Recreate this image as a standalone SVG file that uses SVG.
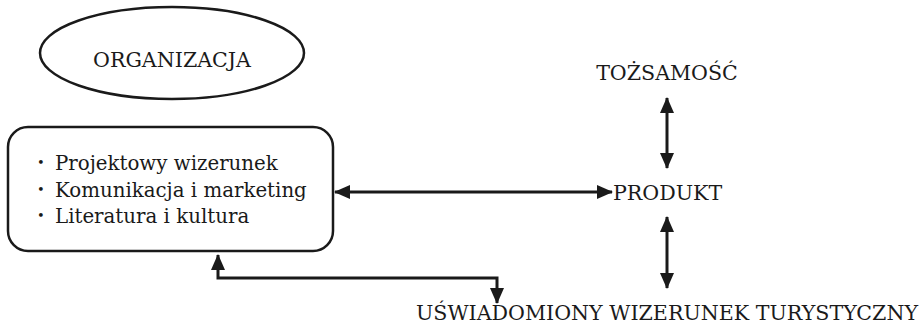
<svg xmlns="http://www.w3.org/2000/svg" width="923" height="330" viewBox="0 0 923 330">
  <style>
    text { font-family: "DejaVu Serif", "Liberation Serif", serif; fill: #1a1a1a; }
    .lbl { font-size: 20.6px; }
    .item { font-size: 19.8px; }
    .dot { font-size: 13px; }
    .shape { fill: #ffffff; stroke: #1a1a1a; stroke-width: 2.5; }
    .conn { fill: none; stroke: #1a1a1a; stroke-width: 3; }
  </style>
  <defs>
    <marker id="head" viewBox="0 0 16 14" refX="15" refY="7" markerWidth="16" markerHeight="14" markerUnits="userSpaceOnUse" orient="auto-start-reverse">
      <path d="M0,0 L16,7 L0,14 Z" fill="#1a1a1a"/>
    </marker>
  </defs>
  <rect width="923" height="330" fill="#ffffff"/>

  <g id="organizacja">
    <ellipse class="shape" cx="172" cy="53" rx="132" ry="46"/>
    <text class="lbl" x="172" y="67" text-anchor="middle">ORGANIZACJA</text>
  </g>

  <g id="narzedzia">
    <rect class="shape" x="8" y="127" width="325" height="124" rx="20" stroke-width="3"/>
    <text class="dot" x="37" y="167">•</text>
    <text class="item" x="55" y="170">Projektowy wizerunek</text>
    <text class="dot" x="37" y="194">•</text>
    <text class="item" x="55" y="197">Komunikacja i marketing</text>
    <text class="dot" x="37" y="220">•</text>
    <text class="item" x="55" y="223">Literatura i kultura</text>
  </g>

  <g id="tozsamosc">
    <text class="lbl" x="667" y="80" text-anchor="middle">TOŻSAMOŚĆ</text>
  </g>

  <g id="produkt">
    <text class="lbl" x="613" y="200">PRODUKT</text>
  </g>

  <g id="wizerunek">
    <text class="lbl" x="667" y="320" text-anchor="middle">UŚWIADOMIONY WIZERUNEK TURYSTYCZNY</text>
  </g>

  <g id="connectors">
    <line class="conn" x1="335" y1="192" x2="612" y2="192" marker-start="url(#head)" marker-end="url(#head)"/>
    <line class="conn" x1="667" y1="98" x2="667" y2="168" marker-start="url(#head)" marker-end="url(#head)"/>
    <line class="conn" x1="667" y1="217" x2="667" y2="288" marker-start="url(#head)" marker-end="url(#head)"/>
    <polyline class="conn" points="218,255 218,278 497,278 497,303" marker-start="url(#head)" marker-end="url(#head)"/>
  </g>
</svg>
